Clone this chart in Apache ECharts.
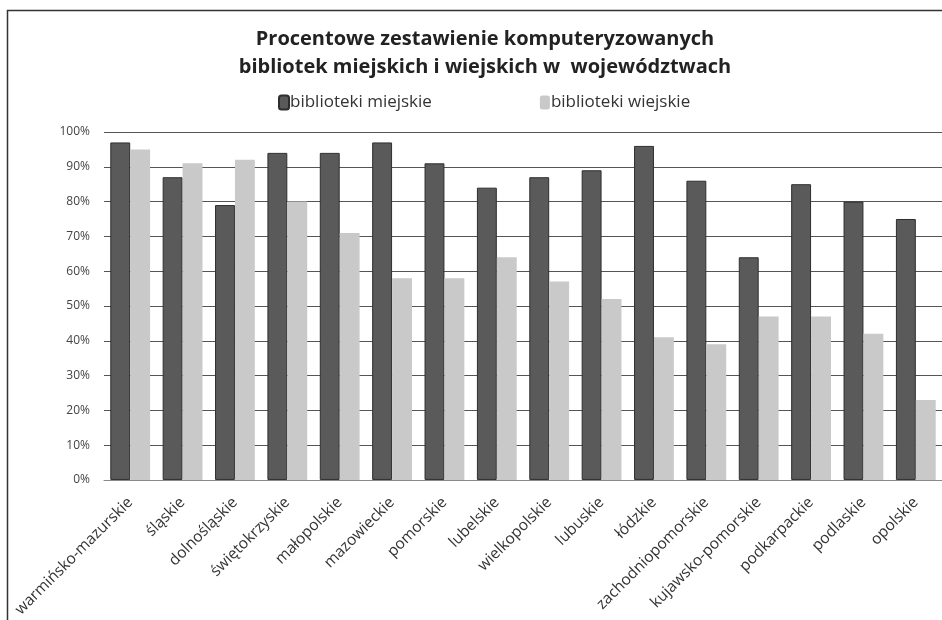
<!DOCTYPE html>
<html><head><meta charset="utf-8">
<script src="https://cdn.jsdelivr.net/npm/echarts@6/dist/echarts.min.js"></script>
<style>html,body{margin:0;padding:0;background:#fff}#c{width:942px;height:620px}</style>
</head><body><div id="c"></div>
<script>
var categories = ["warmińsko-mazurskie","śląskie","dolnośląskie","świętokrzyskie","małopolskie","mazowieckie","pomorskie","lubelskie","wielkopolskie","lubuskie","łódzkie","zachodniopomorskie","kujawsko-pomorskie","podkarpackie","podlaskie","opolskie"];
var miejskie = [97,87,79,94,94,97,91,84,87,89,96,86,64,85,80,75];
var wiejskie = [95,91,92,80,71,58,58,64,57,52,41,39,47,47,42,23];
var yTicks = [0,10,20,30,40,50,60,70,80,90,100];

var chart = echarts.init(document.getElementById('c'));
chart.setOption({
  backgroundColor:'#fff',
  animation:false,
  graphic:[{type:'rect',shape:{x:7.5,y:10.5,width:1000,height:1000},style:{fill:'none',stroke:'#333',lineWidth:1.5}}],
  title:{text:'Procentowe zestawienie komputeryzowanych\nbibliotek miejskich i wiejskich w  województwach',left:480,textAlign:'center',top:20,
    textStyle:{fontFamily:'Open Sans',fontWeight:'bold',fontSize:20,lineHeight:28,color:'#222'}},
  legend:{top:89,left:273,itemGap:108,itemWidth:10,itemHeight:14,
    textStyle:{fontFamily:'Open Sans',fontSize:17,color:'#333',padding:[0,0,0,-4]},
    data:['biblioteki miejskie','biblioteki wiejskie']},
  grid:{left:104,top:132,width:840,height:349},
  xAxis:{type:'category',data:categories,
    axisLine:{lineStyle:{color:'#888'}},axisTick:{show:false},
    axisLabel:{interval:0,rotate:45,fontFamily:'Open Sans',fontSize:15.5,color:'#333',margin:20}},
  yAxis:{type:'value',min:0,max:100,interval:10,
    axisLine:{show:false},axisTick:{show:false},
    splitLine:{lineStyle:{color:'#555',width:1.2}},
    axisLabel:{fontFamily:'Open Sans',fontSize:12,color:'#444',margin:14,formatter:function(v){return yTicks.indexOf(v)>=0? v+'%':'';}}},
  series:[
    {name:'biblioteki miejskie',type:'bar',data:miejskie,barGap:'0%',barCategoryGap:'24%',
      itemStyle:{color:'#5a5a5a',borderColor:'#2e2e2e',borderWidth:1}},
    {name:'biblioteki wiejskie',type:'bar',data:wiejskie,
      itemStyle:{color:'#c9c9c9'}}
  ]
});
</script></body></html>
